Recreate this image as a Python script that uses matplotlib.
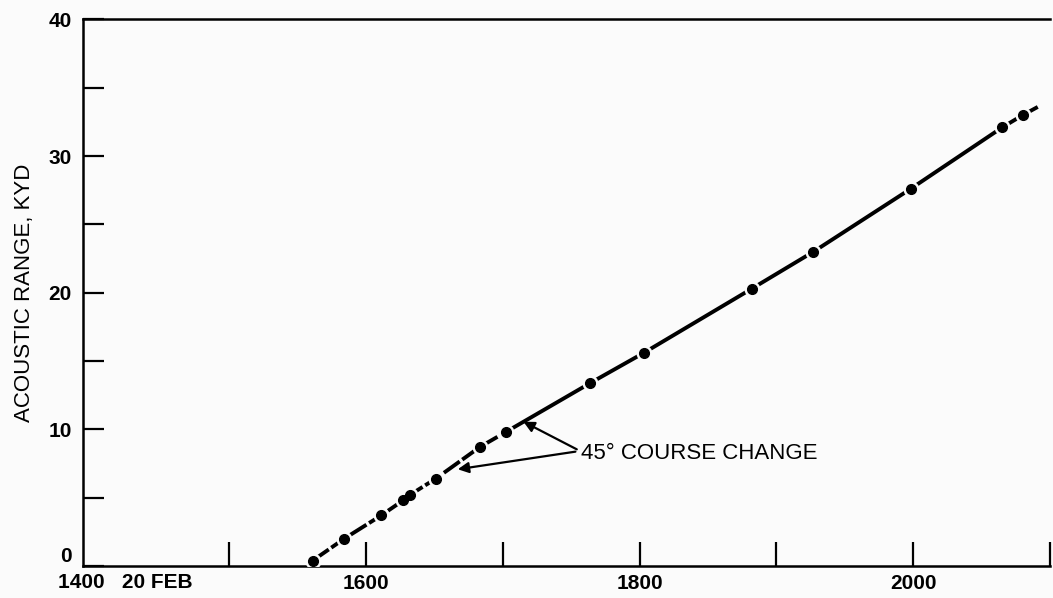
import matplotlib.pyplot as plt

# acoustic range vs time, 20 FEB (time in decimal hours)
fix_time = [15.61, 15.84, 16.11, 16.27, 16.32, 16.51, 16.83, 17.02,
            17.64, 18.03, 18.82, 19.27, 19.98, 20.65, 20.80]
fix_range = [0.4, 2.0, 3.7, 4.8, 5.2, 6.4, 8.7, 9.8,
             13.4, 15.6, 20.3, 23.0, 27.6, 32.1, 33.0]
track_end_time = 20.91
track_end_range = 33.6
n_before_change = 8  # fixes on the first leg (dashed)

x_ticks = [15, 16, 17, 18, 19, 20, 21]
x_ticklabels = ['', '1600', '', '1800', '', '2000', '']
y_ticks = [0, 5, 10, 15, 20, 25, 30, 35, 40]
y_ticklabels = ['0', '', '10', '', '20', '', '30', '', '40']

label_text = '45\u00b0 COURSE CHANGE'
label_pos = (17.57, 8.27)
arrow_tips = [(17.15, 10.56), (16.67, 7.08)]
arrow_tails = [(17.54, 8.54), (17.53, 8.37)]

plt.rcParams['font.family'] = ['Liberation Sans', 'DejaVu Sans']
bg = '#fbfbfb'

fig = plt.figure(figsize=(10.53, 5.98), dpi=100, facecolor=bg)
ax = fig.add_axes([0.0788, 0.0535, 0.9184, 0.9139], facecolor=bg)

# first leg dashed, second leg solid
ax.plot(fix_time[:n_before_change], fix_range[:n_before_change],
        color='black', lw=2.8, dashes=(5, 0.8), solid_capstyle='butt', zorder=2)
ax.plot(fix_time[n_before_change - 1:] + [track_end_time],
        fix_range[n_before_change - 1:] + [track_end_range],
        color='black', lw=2.8, solid_capstyle='butt', zorder=2)
# little gap round each fix
ax.plot(fix_time, fix_range, 'o', ms=10.5, color=bg, zorder=3)
ax.plot(fix_time, fix_range, 'o', ms=7, color='black', zorder=4)

for tip, tail in zip(arrow_tips, arrow_tails):
    ax.annotate('', xy=tip, xytext=tail,
                arrowprops=dict(arrowstyle='-|>', color='black', lw=1.6,
                                mutation_scale=16, shrinkA=0, shrinkB=0))
ax.text(label_pos[0], label_pos[1], label_text, fontsize=16,
        ha='left', va='center')

ax.set_xlim(13.93, 21.0)
ax.set_ylim(0, 40)
ax.set_xticks(x_ticks)
ax.set_xticklabels(x_ticklabels, fontsize=15, fontweight='bold')
ax.set_yticks(y_ticks)
ax.set_yticklabels(y_ticklabels, fontsize=15, fontweight='bold')
ax.tick_params(axis='x', direction='in', length=17, width=1.6, pad=6)
ax.tick_params(axis='y', direction='in', length=15, width=1.6, pad=8)
ax.get_yticklabels()[0].set_va('bottom')

ax.text(13.75, -0.012, '1400   20 FEB', transform=ax.get_xaxis_transform(),
        fontsize=15, fontweight='bold', ha='left', va='top')

ax.set_ylabel('ACOUSTIC RANGE, KYD', fontsize=16, labelpad=10)

ax.spines['right'].set_visible(False)
for s in ['left', 'top', 'bottom']:
    ax.spines[s].set_linewidth(1.8)

fig.savefig('out.png', dpi=100, facecolor=bg)
